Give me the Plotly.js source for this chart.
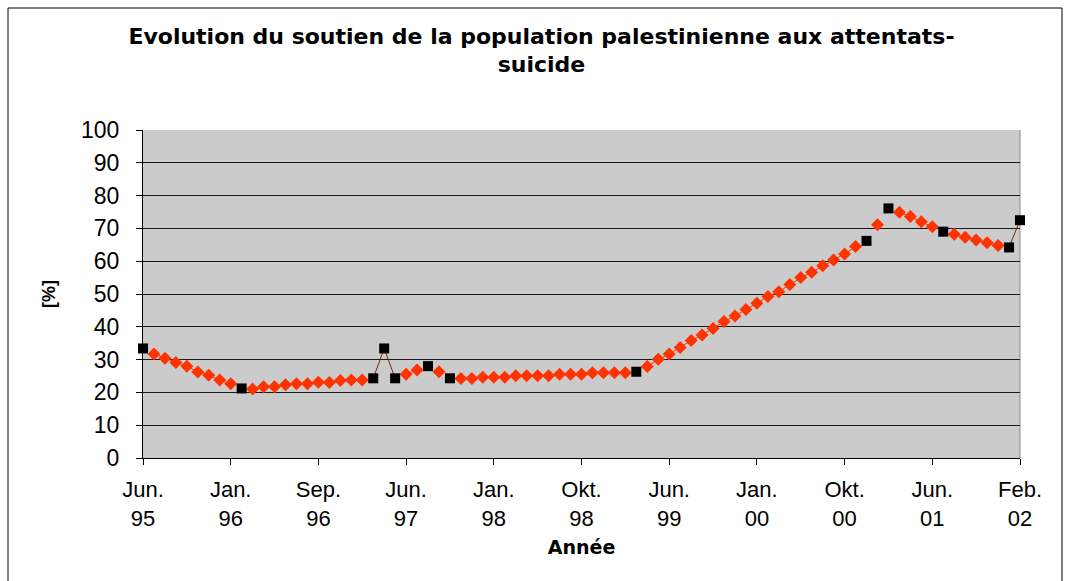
<!DOCTYPE html>
<html>
<head>
<meta charset="utf-8">
<script src="https://cdn.plot.ly/plotly-3.0.1.min.js"></script>
<style>
html,body{margin:0;padding:0;background:#fff;}
#chart{width:1068px;height:581px;}
</style>
</head>
<body>
<div id="chart"></div>
<script>
// Tick labels (one every 8 categories along the category axis)
const tickLabels = ["Jun.<br>95","Jan.<br>96","Sep.<br>96","Jun.<br>97","Jan.<br>98","Okt.<br>98","Jun.<br>99","Jan.<br>00","Okt.<br>00","Jun.<br>01","Feb.<br>02"];
const nCategories = 81;

// Survey points (black squares): category index and value [%]
const surveyIdx  = [0, 9, 21, 22, 23, 26, 28, 45, 66, 68, 73, 79, 80];
const surveyVals = [33.4, 21.2, 24.3, 33.4, 24.3, 28.0, 24.3, 26.3, 66.2, 76.1, 69.0, 64.2, 72.5];

// Intermediate estimates (red diamonds): category index and value [%]
const estIdx = [1,2,3,4,5,6,7,8,
  10,11,12,13,14,15,16,17,18,19,20,
  24,25,27,
  29,30,31,32,33,34,35,36,37,38,39,40,41,42,43,44,
  46,47,48,49,50,51,52,53,54,55,56,57,58,59,60,61,62,63,64,65,
  67,69,70,71,72,74,75,76,77,78];
const estVals = [31.7,30.4,29.1,28.0,26.2,25.2,23.8,22.6,
  21.0,21.7,21.7,22.3,22.6,22.6,23.1,23.0,23.6,23.8,23.8,
  25.5,26.8,26.3,
  24.2,24.2,24.6,24.6,24.6,25.1,25.1,25.1,25.1,25.5,25.5,25.5,26.0,26.0,26.0,26.0,
  27.9,30.1,31.7,33.7,35.8,37.5,39.5,41.6,43.3,45.3,47.2,49.2,50.7,52.9,55.0,56.6,58.6,60.4,62.2,64.5,
  71.1,74.9,73.6,72.0,70.5,68.2,67.3,66.5,65.6,64.8];

function spread(idx, vals){
  const a = new Array(nCategories).fill(null);
  idx.forEach((k,j)=>{ a[k] = vals[j]; });
  return a;
}
const xs = Array.from({length:nCategories},(_,i)=>i);
const step = (nCategories-1)/(tickLabels.length-1);
const tickVals = tickLabels.map((_,k)=>k*step);

const FONT = "Liberation Sans, Arial, sans-serif";
const WIDE = "DejaVu Sans, Verdana, sans-serif";

const traces = [
  {
    x: xs, y: spread(estIdx, estVals), type: 'scatter', mode: 'lines+markers',
    line: {color: '#ff3300', width: 1},
    marker: {symbol: 'diamond', size: 10, color: '#ff3300'},
    connectgaps: false, cliponaxis: false, hoverinfo: 'skip', showlegend: false
  },
  {
    x: xs, y: spread(surveyIdx, surveyVals), type: 'scatter', mode: 'lines+markers',
    line: {color: '#7a2418', width: 1},
    marker: {symbol: 'square', size: 10, color: '#000000'},
    connectgaps: false, cliponaxis: false, hoverinfo: 'skip', showlegend: false
  }
];

const layout = {
  width: 1068, height: 581,
  margin: {l: 143, r: 48, t: 130, b: 123, pad: 0},
  paper_bgcolor: '#ffffff',
  plot_bgcolor: '#cbcbcb',
  font: {family: FONT, color: '#000'},
  title: {
    text: "<b>Evolution du soutien de la population palestinienne aux attentats-<br>suicide</b>",
    font: {family: WIDE, size: 22, color: '#000'},
    x: 0.507, xanchor: 'center', xref: 'container',
    y: 0.925, yanchor: 'top', yref: 'container'
  },
  xaxis: {
    range: [0, nCategories-1],
    tickmode: 'array', tickvals: tickVals, ticktext: tickLabels,
    ticks: 'outside', ticklen: 6, tickcolor: '#000', tickwidth: 1,
    tickfont: {family: FONT, size: 22, color: '#000'},
    ticklabelstandoff: 6,
    showline: true, linecolor: '#000', linewidth: 1,
    showgrid: false, zeroline: false,
    title: {text: '<b>Année</b>', font: {family: WIDE, size: 19, color: '#000'}, standoff: 10},
    fixedrange: true
  },
  yaxis: {
    range: [0, 100], dtick: 10, tick0: 0,
    ticks: 'outside', ticklen: 6, tickcolor: '#000', tickwidth: 1,
    tickfont: {family: FONT, size: 23, color: '#000'},
    ticklabelstandoff: 12,
    showline: true, linecolor: '#000', linewidth: 1,
    showgrid: true, gridcolor: '#1a1a1a', gridwidth: 1,
    zeroline: false,
    title: {text: '<b>[%]</b>', font: {family: FONT, size: 18, color: '#000'}, standoff: 20},
    fixedrange: true
  },
  shapes: [
    {type: 'line', xref: 'paper', yref: 'paper', x0: 1, x1: 1, y0: 0, y1: 1,
     line: {color: '#8a8a8a', width: 1}, layer: 'below'},
    {type: 'rect', xref: 'paper', yref: 'paper',
     x0: (8-143)/877, x1: (1062-143)/877, y0: (458-600)/328, y1: (458-8)/328,
     line: {color: '#000', width: 1}, fillcolor: 'rgba(0,0,0,0)', layer: 'above'}
  ],
  hovermode: false
};

Plotly.newPlot('chart', traces, layout, {displayModeBar: false, staticPlot: true});
</script>
</body>
</html>
